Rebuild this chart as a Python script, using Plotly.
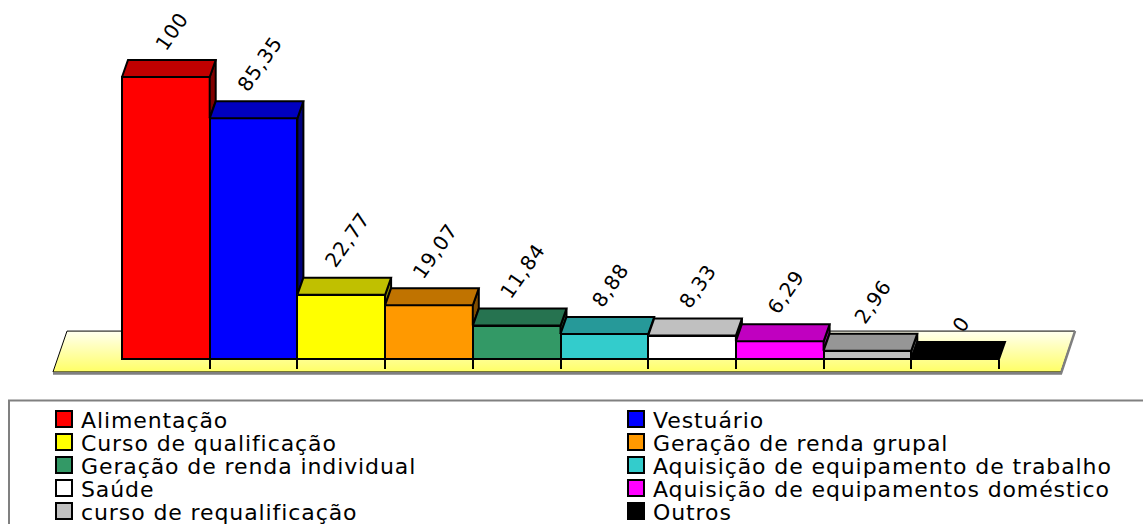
import plotly.graph_objects as go

categories = ["Alimentação", "Vestuário", "Curso de qualificação", "Geração de renda grupal",
              "Geração de renda individual", "Aquisição de equipamento de trabalho", "Saúde",
              "Aquisição de equipamentos doméstico", "curso de requalificação", "Outros"]
values = [100, 85.35, 22.77, 19.07, 11.84, 8.88, 8.33, 6.29, 2.96, 0]
value_labels = ["100", "85,35", "22,77", "19,07", "11,84", "8,88", "8,33", "6,29", "2,96", "0"]
front_colors = ["#ff0000", "#0000ff", "#ffff00", "#ff9900", "#339966", "#33cccc",
                "#ffffff", "#ff00ff", "#c0c0c0", "#000000"]
top_colors = ["#c00000", "#0000c0", "#c0c000", "#c07300", "#267350", "#269999",
              "#c0c0c0", "#c000c0", "#969696", "#000000"]
side_colors = ["#800000", "#000080", "#808000", "#804d00", "#1a4d35", "#1a6666",
               "#808080", "#800080", "#646464", "#000000"]

W, H = 1143, 524
n = len(categories)
idx = list(range(n))

# pixel geometry -> axis ranges
px_left, px_slot = 122.0, 87.7
py_base, py_per_unit = 359.0, 2.82
x_range = [-0.5 - px_left / px_slot, -0.5 + (W - px_left) / px_slot]
y_range = [-(H - py_base) / py_per_unit, py_base / py_per_unit]
dx = 6.0 / px_slot
dy = 17.0 / py_per_unit

fig = go.Figure()

# floor (main subplot, beneath everything)
fx0, fx1, slant = -0.5 - 0.787, n - 0.5 + 0.707, 0.16
fy0, fy1 = -4.6, 9.9
fig.add_trace(go.Scatter(
    x=[fx0, fx1, fx1 + slant, fx0 + slant, fx0], y=[fy0, fy0, fy1, fy1, fy0],
    mode="lines", fill="toself",
    fillgradient=dict(type="vertical", colorscale=[[0, "#ffff66"], [1, "#fffff0"]]),
    line=dict(color="#000000", width=1), hoverinfo="skip", showlegend=False))
fig.add_trace(go.Scatter(
    x=[fx0, fx1, fx1 + slant], y=[fy0 - 0.5, fy0 - 0.5, fy1],
    mode="lines", line=dict(color="#7f7f7f", width=2.5), hoverinfo="skip", showlegend=False))

# front faces
fig.add_trace(go.Bar(x=idx, y=values, width=1, marker=dict(color=front_colors,
                     line=dict(color="#000000", width=2)),
                     xaxis="x2", yaxis="y2", hoverinfo="skip", showlegend=False))

# side and top faces
for i, v in enumerate(values):
    v_next = values[i + 1] if i + 1 < n else 0
    xr = i + 0.5
    if v > v_next:
        fig.add_trace(go.Scatter(
            x=[xr, xr, xr + dx, xr + dx, xr], y=[v_next, v, v + dy, v_next + dy, v_next],
            mode="lines", fill="toself", fillcolor=side_colors[i],
            line=dict(color="#000000", width=2), xaxis="x2", yaxis="y2",
            hoverinfo="skip", showlegend=False))
    xl = i - 0.5
    fig.add_trace(go.Scatter(
        x=[xl, xr, xr + dx, xl + dx, xl], y=[v, v, v + dy, v + dy, v],
        mode="lines", fill="toself", fillcolor=top_colors[i],
        line=dict(color="#000000", width=2), xaxis="x2", yaxis="y2",
        hoverinfo="skip", showlegend=False))

annotations = []
for i, v in enumerate(values):
    annotations.append(dict(
        x=i + dx, y=v + dy, xref="x2", yref="y2",
        text=f'<span style="letter-spacing:0.8px">{value_labels[i]}</span>',
        showarrow=False, textangle=-55, xanchor="center", yanchor="bottom", yshift=3,
        font=dict(family="DejaVu Sans", size=20, color="#000000")))

# custom legend (two columns, row-major)
shapes = [dict(type="rect", xref="paper", yref="paper", x0=9 / W, x1=1.02,
               y0=-0.02, y1=1 - 400.5 / H, line=dict(color="#808080", width=2),
               fillcolor="rgba(0,0,0,0)")]
col_sq_x = [56, 628]
col_tx_x = [79, 651]
for k, name in enumerate(categories):
    col, row = k % 2, k // 2
    cy = 419 + 23 * row
    sx = col_sq_x[col]
    shapes.append(dict(type="rect", xref="paper", yref="paper",
                       x0=sx / W, x1=(sx + 16) / W, y0=1 - (cy + 8) / H, y1=1 - (cy - 8) / H,
                       fillcolor=front_colors[k], line=dict(color="#000000", width=2)))
    annotations.append(dict(
        x=col_tx_x[col] / W, y=1 - (cy + 1) / H, xref="paper", yref="paper",
        text=f'<span style="letter-spacing:0.9px">{name}</span>', showarrow=False,
        xanchor="left", yanchor="middle",
        font=dict(family="DejaVu Sans", size=22, color="#000000")))

fig.update_layout(
    width=W, height=H, margin=dict(l=0, r=0, t=0, b=0),
    paper_bgcolor="#ffffff", plot_bgcolor="rgba(0,0,0,0)",
    showlegend=False, bargap=0,
    xaxis=dict(range=x_range, showgrid=False, zeroline=False, showline=False,
               tickvals=[i + 0.5 for i in range(n)], ticks="outside", ticklen=9,
               tickwidth=1.5, tickcolor="#000000", showticklabels=False,
               anchor="free", position=(H - py_base) / H),
    yaxis=dict(range=y_range, visible=False),
    xaxis2=dict(range=x_range, overlaying="x", visible=False),
    yaxis2=dict(range=y_range, overlaying="y", visible=False),
    annotations=annotations, shapes=shapes,
)

fig.write_html("out.html", config={"displayModeBar": False},
               post_script="document.body.style.margin='0px';document.body.style.overflow='hidden';")
